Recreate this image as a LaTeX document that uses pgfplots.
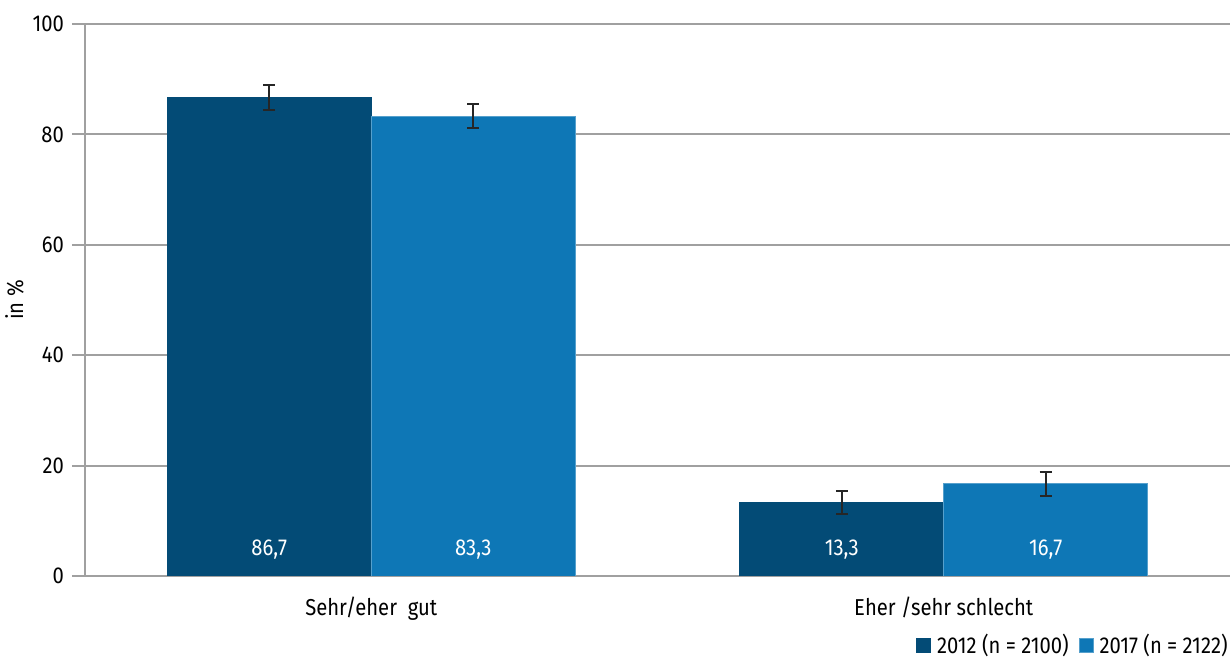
\documentclass[border=0pt]{standalone}
\usepackage{pgfplots}
\pgfplotsset{compat=1.18}
\usepackage{fontspec}
\setmainfont{Fira Sans}[FakeStretch=0.88]
\usetikzlibrary{calc}
\definecolor{dblue}{HTML}{034B76}
\definecolor{lblue}{HTML}{0E77B6}
\definecolor{axgray}{HTML}{A0A0A0}
\begin{document}
\begin{tikzpicture}
\fontsize{11.5pt}{13pt}\selectfont
\begin{axis}[
  name=ax,
  width=572.5pt, height=276pt, scale only axis,
  xmin=-0.5, xmax=1.5, ymin=0, ymax=100,
  axis lines*=left,
  axis line style={axgray, line width=1pt},
  xtick={0,1},
  xticklabels={Sehr/eher\ \ gut, Eher /sehr schlecht},
  x tick label style={yshift=0pt},
  major x tick style={draw=none},
  extra x ticks={-0.5,0.5,1.5},
  extra x tick labels={},
  extra x tick style={major tick length=6pt, tick style={axgray, line width=1pt}, grid=none, tick align=outside},
  ytick={0,20,40,60,80,100},
  y tick style={axgray, line width=1pt},
  tick align=outside,
  major tick length=6.5pt,
  ymajorgrids,
  grid style={axgray, line width=1pt},
  ylabel={in \%},
  ylabel style={yshift=-3.5pt},
  /pgf/number format/assume math mode=true,
  ybar, bar width=0.3563,
  error bars/error bar style={black!85, line width=1pt},
  error bars/error mark options={rotate=90, mark size=3pt, black!85, line width=1pt},
  legend style={at={(1,0)}, anchor=north east, yshift=-27pt, xshift=1pt, draw=none, fill=none,
    legend columns=2, /tikz/every even column/.style={column sep=3pt},
    /tikz/every odd column/.style={column sep=1pt},
    inner sep=0pt, font=\fontsize{11.5pt}{13pt}\selectfont},
  legend image code/.code={\fill[#1] (0pt,-3.5pt) rectangle (7pt,3.5pt);},
]
\addplot[fill=dblue, draw=dblue, bar shift=-0.17815,
  error bars/.cd, y dir=both, y explicit]
  coordinates {(0,86.7) +- (0,2.2) (1,13.3) +- (0,2.1)};
\addlegendentry{2012 (n = 2100)}
\addplot[fill=lblue, draw=lblue!70!white, bar shift=0.17815,
  error bars/.cd, y dir=both, y explicit]
  coordinates {(0,83.3) +- (0,2.2) (1,16.7) +- (0,2.2)};
\addlegendentry{2017 (n = 2122)}
\node[white] at (axis cs:-0.17815,4.7) {86,7};
\node[white] at (axis cs:0.17815,4.7) {83,3};
\node[white] at (axis cs:0.82185,4.7) {13,3};
\node[white] at (axis cs:1.17815,4.7) {16,7};
\end{axis}
\pgfresetboundingbox
\useasboundingbox ($(ax.south west)+(-42.5pt,-40.5pt)$) rectangle ($(ax.north east)+(1pt,12pt)$);
\end{tikzpicture}
\end{document}
